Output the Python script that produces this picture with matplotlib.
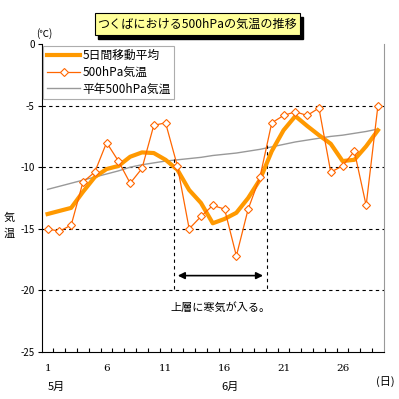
import numpy as np
import matplotlib
matplotlib.use("Agg")
import matplotlib.pyplot as plt
from matplotlib.patches import FancyBboxPatch

plt.rcParams['font.family'] = ['Noto Sans CJK JP', 'DejaVu Sans']

# data (days 1..29)
days = np.arange(1, 30)
temp_500 = [-15.0, -15.2, -14.7, -11.2, -10.4, -8.0, -9.5, -11.3, -10.1, -6.6,
            -6.4, -9.9, -15.0, -14.0, -13.1, -13.4, -17.2, -13.4, -10.8, -6.4,
            -5.8, -5.5, -5.8, -5.2, -10.4, -9.9, -8.7, -13.1, -5.0]
avg_5day = [-13.8, -13.55, -13.3, -12.0, -10.8, -10.15, -9.9, -9.15, -8.8, -8.85,
            -9.4, -10.2, -11.85, -12.9, -14.55, -14.2, -13.7, -12.5, -11.0, -8.7,
            -7.0, -5.85, -6.65, -7.4, -8.1, -9.5, -9.4, -8.3, -7.0]
normal_500 = [-11.8, -11.55, -11.3, -11.05, -10.8, -10.55, -10.3, -10.0, -9.8, -9.65,
              -9.5, -9.4, -9.3, -9.2, -9.05, -8.95, -8.85, -8.7, -8.55, -8.35,
              -8.15, -7.95, -7.8, -7.65, -7.5, -7.4, -7.25, -7.1, -6.9]
xtick_days = [1, 6, 11, 16, 21, 26]
yticks = [0, -5, -10, -15, -20, -25]

fig = plt.figure(figsize=(3.99, 3.99), dpi=100)
ax = fig.add_axes([0.1045, 0.1178, 0.8575, 0.7719])

ax.plot(days, avg_5day, color='#FF9900', linewidth=3.0, label='5日間移動平均', zorder=3)
ax.plot(days, temp_500, color='#FF6600', linewidth=0.9, marker='D', markersize=3.8,
        markerfacecolor='white', markeredgecolor='#FF6600', markeredgewidth=0.8,
        label='500hPa気温', zorder=4)
ax.plot(days, normal_500, color='#999999', linewidth=1, label='平年500hPa気温', zorder=2)

for v in [-5, -10, -15, -20]:
    ax.axhline(v, color='black', linewidth=0.8, linestyle=(0, (3, 3)), zorder=1)

# period of cold air
ax.plot([11.7, 11.7], [-9.3, -20], color='black', linewidth=0.8, linestyle=(0, (3, 3)))
ax.plot([19.6, 19.6], [-8.2, -20], color='black', linewidth=0.8, linestyle=(0, (3, 3)))
ax.annotate('', xy=(11.8, -18.8), xytext=(19.5, -18.8),
            arrowprops=dict(arrowstyle='<|-|>', color='black', linewidth=1.2,
                            mutation_scale=10))
ax.text(15.7, -21.4, '上層に寒気が入る。', fontsize=8, ha='center', va='center')

ax.set_xlim(0.5, 29.5)
ax.set_ylim(-25, 0)
ax.set_yticks(yticks)
ax.set_yticklabels([str(v) for v in yticks], fontsize=7)
ax.set_xticks(np.arange(1.5, 29.5, 1))
ax.set_xticklabels([])
ax.tick_params(axis='x', direction='in', length=3, width=0.8)
ax.tick_params(axis='y', direction='out', length=3, width=0.8, pad=2)
for d in xtick_days:
    ax.text(d, -26.3, str(d), fontsize=7.5, ha='center', va='center', family='DejaVu Serif')

ax.spines['left'].set_color('black')
ax.spines['bottom'].set_color('black')
ax.spines['top'].set_visible(False)
ax.spines['right'].set_color('#999999')

fig.text(0.142, 0.03, '5月', fontsize=8, ha='center', va='center')
fig.text(0.577, 0.03, '6月', fontsize=8, ha='center', va='center')
fig.text(0.965, 0.045, '(日)', fontsize=8, ha='center', va='center')
fig.text(0.112, 0.915, '(℃)', fontsize=7, ha='center', va='center')
fig.text(0.022, 0.455, '気', fontsize=8, ha='center', va='center')
fig.text(0.022, 0.415, '温', fontsize=8, ha='center', va='center')

leg = ax.legend(loc='upper left', fontsize=8.5, frameon=True, fancybox=False,
                borderaxespad=0.15, handlelength=2.8, borderpad=0.3, labelspacing=0.3,
                handletextpad=0.2)
leg.get_frame().set_edgecolor('#999999')
leg.get_frame().set_linewidth(0.8)

# title box with shadow
fig.patches.append(FancyBboxPatch((0.245, 0.903), 0.515, 0.055, boxstyle='square,pad=0',
                                  transform=fig.transFigure, facecolor='black',
                                  edgecolor='black', zorder=1))
fig.patches.append(FancyBboxPatch((0.238, 0.912), 0.515, 0.055, boxstyle='square,pad=0',
                                  transform=fig.transFigure, facecolor='#FFFF99',
                                  edgecolor='black', linewidth=0.8, zorder=2))
fig.text(0.495, 0.939, 'つくばにおける500hPaの気温の推移', fontsize=8.7, ha='center',
         va='center', zorder=3)

fig.savefig('out.png', dpi=100)
